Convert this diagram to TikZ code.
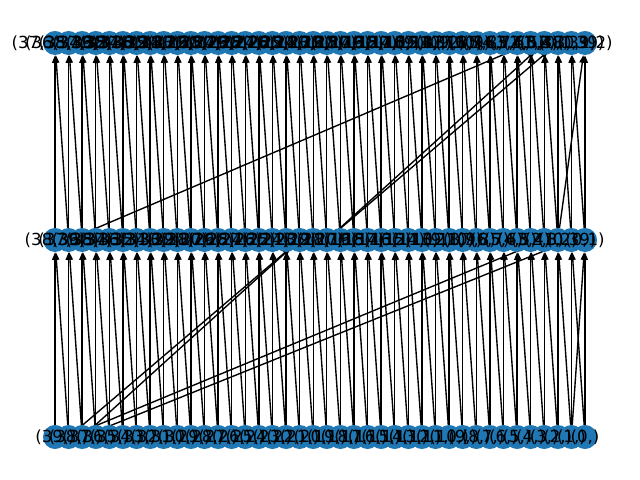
\documentclass[tikz,border=0pt]{standalone}
\usepackage{fontspec}
\setmainfont{DejaVu Sans}
\usetikzlibrary{arrows.meta}
\definecolor{nxblue}{RGB}{31,119,180}
\pgfdeclarelayer{bg}
\pgfsetlayers{bg,main}
\begin{document}
\begin{tikzpicture}[x=0.01in,y=-0.01in,
  vtx/.style={circle,fill=nxblue,minimum size=0.24in,inner sep=0pt},
  lbl/.style={inner sep=0pt,font=\fontsize{12}{14}\selectfont},
  edge/.style={line width=1pt,-{Triangle[length=5.5pt,width=4.2pt]}}]
\useasboundingbox (0,0) rectangle (640,480);
\foreach \k in {0,...,39} {
  \pgfmathsetmacro\xx{55+\k*13.5897}
  \node[vtx] (b\k) at (\xx,437) {};
  \node[vtx] (m\k) at (\xx,240) {};
  \node[vtx] (t\k) at (\xx,43) {};
}
\begin{pgfonlayer}{bg}
\foreach \k in {0,...,39} {
  \draw[edge] (b\k) -- (m\k);
  \draw[edge] (m\k) -- (t\k);
}
\foreach \k [count=\j from 0] in {1,...,39} {
  \draw[edge] (b\k) -- (m\j);
  \draw[edge] (m\k) -- (t\j);
}
% long connectors
\draw[edge] (b1) -- (m18);
\draw[edge] (b2) -- (m18);
\draw[edge] (b1) -- (m36);
\draw[edge] (b2) -- (m38);
\draw[edge] (b38) -- (m39);
\draw[edge] (m1) -- (t35);
\draw[edge] (m20) -- (t36);
\draw[edge] (m20) -- (t37);
\draw[edge] (m37) -- (t39);
\end{pgfonlayer}
\foreach \k in {0,...,39} {
  \pgfmathtruncatemacro\i{39-\k}
  \node[lbl] (lb\k) at (b\k) {(\i,)};
}
\foreach \k in {0,...,37} {
  \pgfmathtruncatemacro\i{38-\k}
  \pgfmathtruncatemacro\ii{39-\k}
  \node[lbl] (lm\k) at (m\k) {(\i,\ii)};
}
\node[lbl] (lm38) at (m38) {(0,39)};
\node[lbl] (lm39) at (m39) {(0,1)};
\foreach \k in {0,...,36} {
  \pgfmathtruncatemacro\i{37-\k}
  \pgfmathtruncatemacro\ii{38-\k}
  \pgfmathtruncatemacro\iii{39-\k}
  \node[lbl] (lt\k) at (t\k) {(\i,\ii,\iii)};
}
\node[lbl] (lt37) at (t37) {(0,38,39)};
\node[lbl] (lt38) at (t38) {(0,1,39)};
\node[lbl] (lt39) at (t39) {(0,1,2)};
\end{tikzpicture}
\end{document}
